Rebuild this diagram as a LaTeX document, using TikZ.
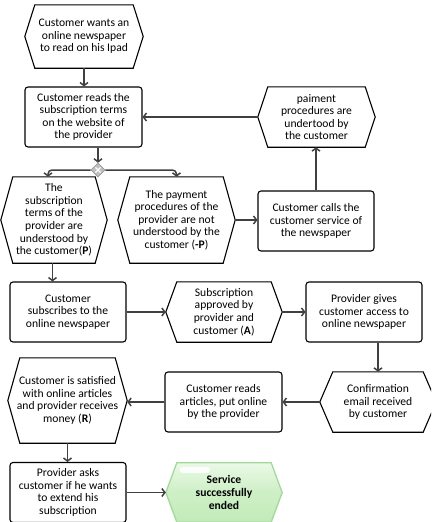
\documentclass[tikz,border=0pt]{standalone}
\usepackage{fontspec}
\setmainfont{Carlito}
\usetikzlibrary{arrows.meta,shapes.geometric,calc}
\definecolor{lineg}{HTML}{404040}
\definecolor{gfill1}{HTML}{EAF9E6}
\definecolor{gfill2}{HTML}{C2EBB8}
\definecolor{gborder}{HTML}{A3D99A}
\tikzset{
  base/.style={align=center, font=\fontsize{11.6}{12.6}\selectfont, inner sep=0pt},
  box/.style={base, draw=black, line width=1.1pt, rounded corners=3pt},
  hexnode/.style={base},
  hexline/.style={draw=black, line width=1.1pt, line join=miter},
  conn/.style={draw=lineg, line width=1.5pt, -{Straight Barb[length=3pt,width=8pt]}},
}
\newcommand\hexa[7]{%
  \node[hexnode, minimum width=#4pt, minimum height=#5pt] (#1) at (#2,#3) {#7};
  \draw[hexline] (#1.west) -- ([xshift=#6pt]#1.north west) -- ([xshift=-#6pt]#1.north east) -- (#1.east) -- ([xshift=-#6pt]#1.south east) -- ([xshift=#6pt]#1.south west) -- cycle;}
\begin{document}
\begin{tikzpicture}[x=1pt,y=-1pt]
\useasboundingbox (0,0) rectangle (431,522);
\clip (0,0) rectangle (431,522);
% events and functions
\hexa{hex1}{84}{36.5}{118}{63}{10}{Customer wants an\\online newspaper\\to read on his Ipad}
\node[box, minimum width=117pt, minimum height=60pt] (box2) at (83.5,117) {Customer reads the\\subscription terms\\on the website of\\the provider};
\node[diamond, fill=gray!50, draw=gray!80, line width=0.6pt, minimum width=14pt, minimum height=14pt, inner sep=0pt] (gw) at (98,170) {};
\draw[white, line width=1.4pt] ($(gw)+(-2.6,-2.6)$) -- ($(gw)+(2.6,2.6)$) ($(gw)+(-2.6,2.6)$) -- ($(gw)+(2.6,-2.6)$);
\hexa{hex3}{54}{220}{106}{86}{12}{The\\subscription\\terms of the\\provider are\\understood by\\the customer(\textbf{P})}
\hexa{hex4}{176.5}{220}{117}{86}{12}{The payment\\procedures of the\\provider are not\\understood by the\\customer (\textbf{-P})}
\node[box, minimum width=116pt, minimum height=60pt] (box5) at (316,221) {Customer calls the\\customer service of\\the newspaper};
\hexa{hex6}{316.5}{117}{117}{60}{10}{paiment\\procedures are\\undertood by\\the customer}
\node[box, minimum width=116pt, minimum height=60pt] (box7) at (68,312) {Customer\\subscribes to the\\online newspaper};
\hexa{hex8}{224}{312}{116}{60}{11}{Subscription\\approved by\\provider and\\customer (\textbf{A})}
\node[box, minimum width=116pt, minimum height=60pt] (box9) at (364,312) {Provider gives\\customer access to\\online newspaper};
\hexa{hex10}{378}{402}{116}{60}{13}{Confirmation\\email received\\by customer}
\node[box, minimum width=117pt, minimum height=60pt] (box11) at (223.5,402) {Customer reads\\articles, put online\\by the provider};
\hexa{hex12}{67.5}{400.5}{119}{85}{12}{Customer is satisfied\\with online articles\\and provider receives\\money (\textbf{R})}
\node[box, minimum width=116pt, minimum height=60pt] (box13) at (68,492.5) {Provider asks\\customer if he wants\\to extend his\\subscription};
% end event (green)
\node[base, minimum width=116pt, minimum height=59pt] (hex14) at (224,492.5) {};
\path[draw=gborder, line width=1.3pt, top color=gfill1, bottom color=gfill2, middle color=gfill2!70!gfill1]
  (hex14.west) -- ([xshift=11pt]hex14.north west) -- ([xshift=-11pt]hex14.north east) -- (hex14.east) -- ([xshift=-11pt]hex14.south east) -- ([xshift=11pt]hex14.south west) -- cycle;
\fill[white, opacity=0.85, rounded corners=2.5pt] ($(hex14.north west)+(14,4)$) rectangle ($(hex14.north west)+(44,10)$);
\node[base, font=\fontsize{11.6}{12.6}\selectfont\bfseries] at (hex14) {Service\\successfully\\ended};
% connectors
\draw[conn] (hex1.south) -- (hex1.south |- box2.north);
\draw[conn] (box2.south -| gw) -- (gw.north);
\draw[conn, rounded corners=4pt] (gw.west) -| ([xshift=-6pt]hex3.north);
\draw[conn, rounded corners=4pt] (gw.east) -| (hex4.north);
\draw[conn] (hex4.east) -- (hex4.east -| box5.west);
\draw[conn] (box5.north) -- (box5.north |- hex6.south);
\draw[conn] (hex6.west) -- (hex6.west -| box2.east);
\draw[conn] ([xshift=-1.5pt]hex3.south) -- ([xshift=-1.5pt]hex3.south |- box7.north);
\draw[conn] (box7.east) -- (hex8.west);
\draw[conn] (hex8.east) -- (box9.west);
\draw[conn] (box9.south -| hex10.north) -- (hex10.north);
\draw[conn] (hex10.west) -- (hex10.west -| box11.east);
\draw[conn] (box11.west) -- (box11.west -| hex12.east);
\draw[conn] (hex12.south) -- (hex12.south |- box13.north);
\draw[conn] (box13.east) -- (box13.east -| hex14.west);
\end{tikzpicture}
\end{document}
